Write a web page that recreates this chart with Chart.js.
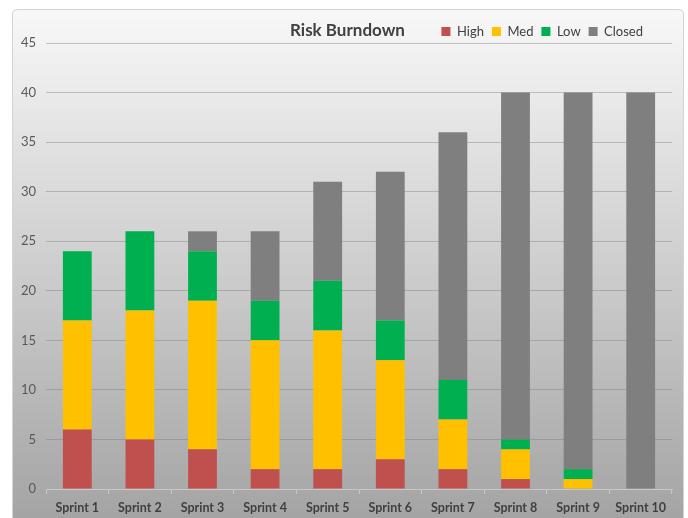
<!DOCTYPE html>
<html><head><meta charset="utf-8">
<script src="https://cdn.jsdelivr.net/npm/chart.js@4"></script>
<style>html,body{margin:0;padding:0;background:#fff;}#wrap{width:688px;height:518px;position:relative;}</style>
</head><body><div id="wrap"><canvas id="c" width="688" height="518"></canvas></div>
<script>
const categories = ["Sprint 1","Sprint 2","Sprint 3","Sprint 4","Sprint 5","Sprint 6","Sprint 7","Sprint 8","Sprint 9","Sprint 10"];
const high   = [6, 5, 4, 2, 2, 3, 2, 1, 0, 0];
const med    = [11, 13, 15, 13, 14, 10, 5, 3, 1, 0];
const low    = [7, 8, 5, 4, 5, 4, 4, 1, 1, 0];
const closed = [0, 0, 2, 7, 10, 15, 25, 35, 38, 40];
const titleText = "Risk Burndown";

const bgPlugin = {
  id: 'bg',
  beforeDraw(chart) {
    const ctx = chart.ctx;
    ctx.save();
    const g = ctx.createLinearGradient(0, 9, 0, 518);
    g.addColorStop(0, '#f8f8f8');
    g.addColorStop(1, '#a4a4a4');
    ctx.fillStyle = g;
    ctx.strokeStyle = '#d4d4d4';
    ctx.lineWidth = 1;
    ctx.beginPath();
    if (ctx.roundRect) ctx.roundRect(12.5, 9.5, 671, 530, 4); else ctx.rect(12.5, 9.5, 671, 530);
    ctx.fill();
    ctx.stroke();
    // title
    ctx.fillStyle = '#404040';
    ctx.font = 'bold 17px Lato';
    ctx.textBaseline = 'middle';
    ctx.textAlign = 'left';
    ctx.fillText(titleText, 290, 31);
    ctx.restore();
    if (chart.legend) chart.legend.right = 651;
  }
};

const legendFit = {
  id: 'legendFit',
  beforeInit(chart) {
    const orig = chart.legend.fit;
    chart.legend.fit = function() { orig.bind(chart.legend)(); this.height = 26; };
  }
};

new Chart(document.getElementById('c'), {
  type: 'bar',
  data: {
    labels: categories,
    datasets: [
      {label: 'High', data: high, backgroundColor: '#c0504d'},
      {label: 'Med', data: med, backgroundColor: '#ffc000'},
      {label: 'Low', data: low, backgroundColor: '#00b050'},
      {label: 'Closed', data: closed, backgroundColor: '#7f7f7f'}
    ]
  },
  options: {
    responsive: false,
    animation: false,
    layout: {padding: {left: 12, right: 16, top: 17, bottom: 0}},
    datasets: {bar: {barPercentage: 0.46, categoryPercentage: 1}},
    plugins: {
      legend: {
        position: 'top', align: 'end',
        labels: {boxWidth: 9, boxHeight: 9, padding: 8, color: '#404040', font: {family: 'Lato', size: 13}}
      },
      tooltip: {enabled: false}
    },
    scales: {
      x: {
        stacked: true,
        grid: {display: true, drawOnChartArea: false, offset: true, tickLength: 5, color: '#c8c8c8'},
        border: {display: true, color: '#c8c8c8'},
        ticks: {color: '#404040', font: {family: 'Lato', size: 12.5, weight: 'bold'}, padding: 6, maxRotation: 0},
        afterFit(s) { s.height = 29; }
      },
      y: {
        stacked: true, min: 0, max: 45,
        ticks: {stepSize: 5, color: '#595959', font: {family: 'Lato', size: 13}, padding: 10},
        grid: {color: 'rgba(120,120,120,0.4)', drawTicks: false},
        border: {display: false},
        afterFit(s) { s.width = 34; }
      }
    }
  },
  plugins: [bgPlugin, legendFit]
});
</script></body></html>
